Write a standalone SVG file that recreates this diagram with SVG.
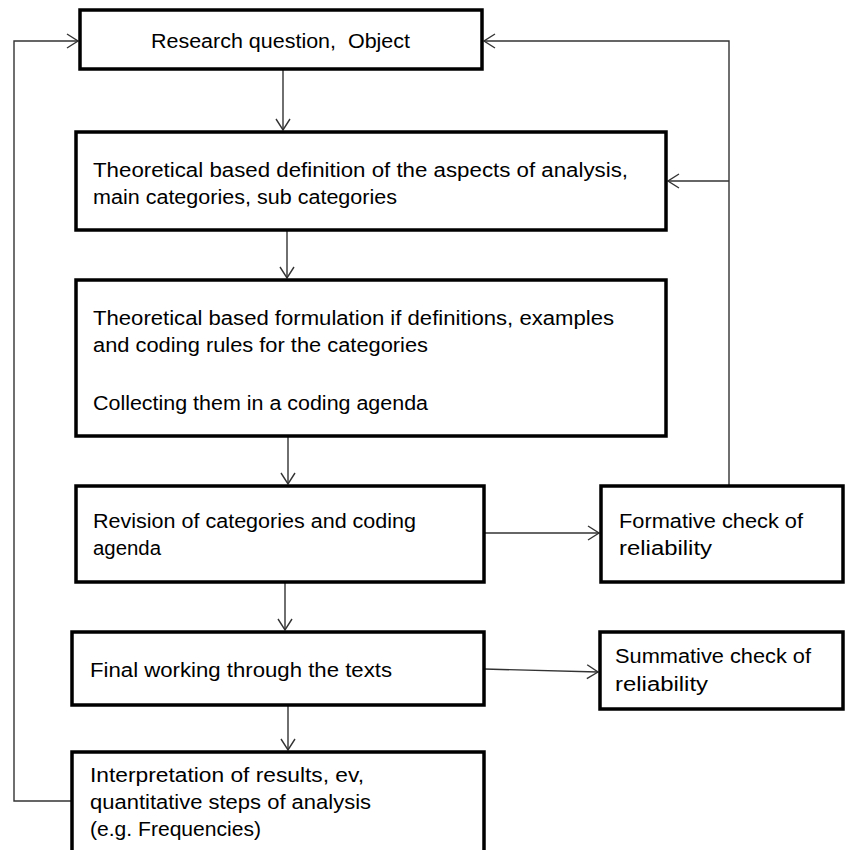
<svg xmlns="http://www.w3.org/2000/svg" width="846" height="850" viewBox="0 0 846 850">
<defs>
<style>
.box{fill:#fff;stroke:#000;stroke-width:3.5}
.t{font-family:"Liberation Sans",Arial,sans-serif;font-size:20px;fill:#000}
.c{fill:none;stroke:#333;stroke-width:1.4}
</style>
<marker id="a" markerWidth="14" markerHeight="16" refX="12" refY="8" orient="auto" markerUnits="userSpaceOnUse">
<path d="M1,1 L12,8 L1,15" fill="none" stroke="#333" stroke-width="1.4"/>
</marker>
</defs>
<rect width="846" height="850" fill="#fff"/>
<g id="connectors">
<path class="c" d="M72,801 H14 V41 H78" marker-end="url(#a)"/>
<path class="c" d="M729,486 V41 H484" marker-end="url(#a)"/>
<path class="c" d="M729,181 H668" marker-end="url(#a)"/>
<path class="c" d="M283,69 V130" marker-end="url(#a)"/>
<path class="c" d="M287,230 V278" marker-end="url(#a)"/>
<path class="c" d="M288,436 V484" marker-end="url(#a)"/>
<path class="c" d="M484,533 H599" marker-end="url(#a)"/>
<path class="c" d="M285,582 V630" marker-end="url(#a)"/>
<path class="c" d="M484,669 L598,672" marker-end="url(#a)"/>
<path class="c" d="M288,705 V750" marker-end="url(#a)"/>
</g>
<g id="n1"><rect class="box" x="80" y="10" width="402" height="59"/>
<text class="t" x="151" y="48" textLength="259" lengthAdjust="spacingAndGlyphs" xml:space="preserve" style="white-space:pre">Research question,  Object</text></g>
<g id="n2"><rect class="box" x="76" y="132" width="590" height="98"/>
<text class="t" x="93" y="177" textLength="535" lengthAdjust="spacingAndGlyphs">Theoretical based definition of the aspects of analysis,</text>
<text class="t" x="93" y="204" textLength="304" lengthAdjust="spacingAndGlyphs">main categories, sub categories</text></g>
<g id="n3"><rect class="box" x="76" y="280" width="590" height="156"/>
<text class="t" x="93" y="325" textLength="521" lengthAdjust="spacingAndGlyphs">Theoretical based formulation if definitions, examples</text>
<text class="t" x="93" y="352" textLength="335" lengthAdjust="spacingAndGlyphs">and coding rules for the categories</text>
<text class="t" x="93" y="410" textLength="335" lengthAdjust="spacingAndGlyphs">Collecting them in a coding agenda</text></g>
<g id="n4"><rect class="box" x="76" y="486" width="408" height="96"/>
<text class="t" x="93" y="528" textLength="323" lengthAdjust="spacingAndGlyphs">Revision of categories and coding</text>
<text class="t" x="93" y="555" textLength="68" lengthAdjust="spacingAndGlyphs">agenda</text></g>
<g id="n5"><rect class="box" x="601" y="486" width="242" height="96"/>
<text class="t" x="619" y="528" textLength="184" lengthAdjust="spacingAndGlyphs">Formative check of</text>
<text class="t" x="619" y="555" textLength="93" lengthAdjust="spacingAndGlyphs">reliability</text></g>
<g id="n6"><rect class="box" x="72" y="632" width="412" height="73"/>
<text class="t" x="90" y="677" textLength="302" lengthAdjust="spacingAndGlyphs">Final working through the texts</text></g>
<g id="n7"><rect class="box" x="600" y="632" width="243" height="77"/>
<text class="t" x="615" y="663" textLength="196" lengthAdjust="spacingAndGlyphs">Summative check of</text>
<text class="t" x="615" y="691" textLength="93" lengthAdjust="spacingAndGlyphs">reliability</text></g>
<g id="n8"><rect class="box" x="72" y="752" width="412" height="100"/>
<text class="t" x="90" y="782" textLength="274" lengthAdjust="spacingAndGlyphs">Interpretation of results, ev,</text>
<text class="t" x="90" y="809" textLength="281" lengthAdjust="spacingAndGlyphs">quantitative steps of analysis</text>
<text class="t" x="90" y="836" textLength="171" lengthAdjust="spacingAndGlyphs">(e.g. Frequencies)</text></g>
</svg>
